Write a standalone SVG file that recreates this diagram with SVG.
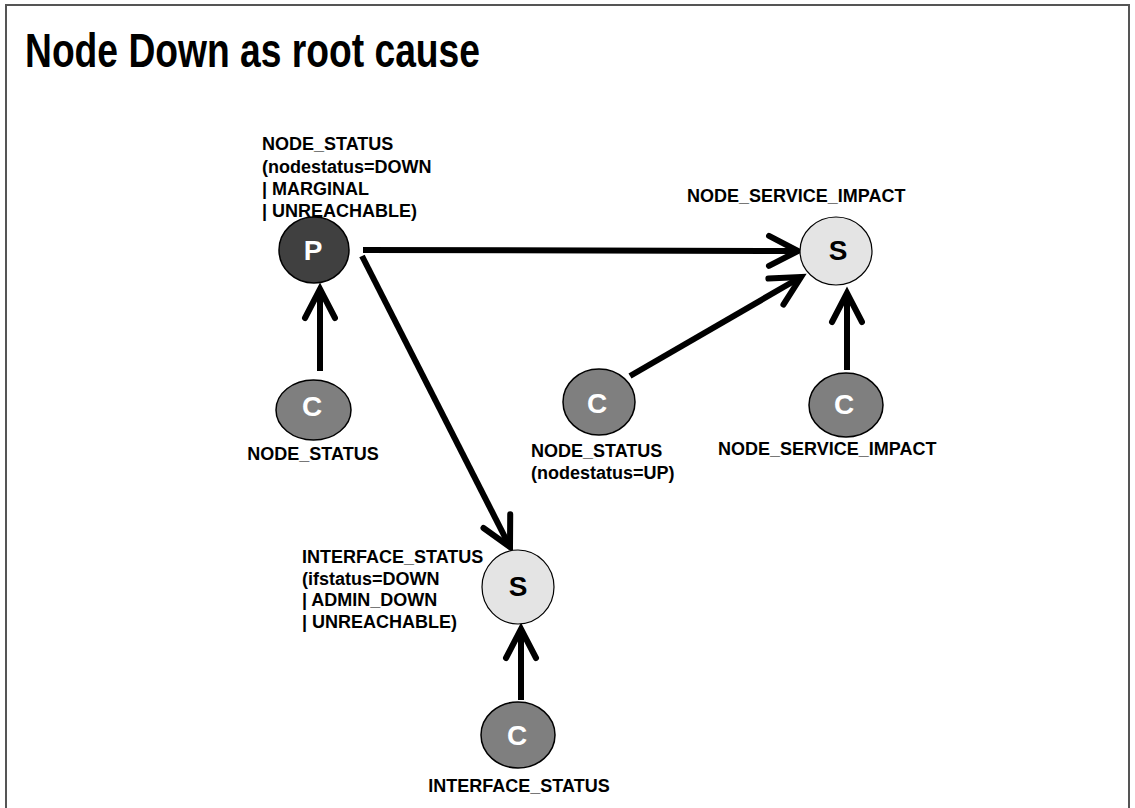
<svg xmlns="http://www.w3.org/2000/svg" width="1135" height="808" viewBox="0 0 1135 808">
  <style>
    .title { font-family: "Liberation Sans", Arial, sans-serif; font-weight: bold; font-size: 49px; fill: #000; }
    .lbl { font-family: "Liberation Sans", Arial, sans-serif; font-weight: bold; font-size: 18px; fill: #000; }
    .mid { text-anchor: middle; }
    .glyph { font-family: "Liberation Sans", Arial, sans-serif; font-weight: bold; font-size: 28px; text-anchor: middle; }
    .p { fill: #404040; stroke: #000; stroke-width: 1.5; }
    .c { fill: #7f7f7f; stroke: #000; stroke-width: 1.5; }
    .s { fill: #e4e4e4; stroke: #000; stroke-width: 1.2; }
    .edge { fill: none; stroke: #000; stroke-width: 6; }
  </style>
  <defs>
    <!-- open chevron arrowhead, fixed size in user units -->
    <marker id="open" markerUnits="userSpaceOnUse" viewBox="-36 -20 40 40" refX="0" refY="0" markerWidth="40" markerHeight="40" orient="auto" overflow="visible">
      <path d="M -29 -15 L 0 0 L -29 15" fill="none" stroke="#000" stroke-width="6" stroke-linecap="round" stroke-linejoin="miter"/>
    </marker>
  </defs>

  <!-- slide frame -->
  <rect x="6" y="5" width="1123" height="812" fill="#fff" stroke="#555" stroke-width="2"/>

  <text class="title" x="25" y="67" textLength="455" lengthAdjust="spacingAndGlyphs">Node Down as root cause</text>

  <g id="connectors">
    <line class="edge" x1="320" y1="371" x2="320" y2="289" marker-end="url(#open)"/>
    <line class="edge" x1="363" y1="250" x2="798" y2="251" marker-end="url(#open)"/>
    <line class="edge" x1="630" y1="376" x2="801" y2="277" marker-end="url(#open)"/>
    <line class="edge" x1="847" y1="370" x2="847" y2="293" marker-end="url(#open)"/>
    <line class="edge" x1="362" y1="256" x2="510" y2="547" marker-end="url(#open)"/>
    <line class="edge" x1="521" y1="700" x2="521" y2="629" marker-end="url(#open)"/>
  </g>

  <g id="p-node-status">
    <ellipse class="p" cx="314" cy="250" rx="35" ry="33"/>
    <text class="glyph" x="313" y="260" fill="#fff">P</text>
    <text class="lbl" x="262" y="150">NODE_STATUS</text>
    <text class="lbl" x="262" y="172.5">(nodestatus=DOWN</text>
    <text class="lbl" x="262" y="195">| MARGINAL</text>
    <text class="lbl" x="262" y="217">| UNREACHABLE)</text>
  </g>

  <g id="s-node-service-impact">
    <ellipse class="s" cx="836" cy="251" rx="36" ry="34"/>
    <text class="glyph" x="838" y="260" fill="#000">S</text>
    <text class="lbl" x="687" y="202">NODE_SERVICE_IMPACT</text>
  </g>

  <g id="c-node-status-left">
    <ellipse class="c" cx="313.5" cy="410" rx="37.5" ry="30"/>
    <text class="glyph" x="312" y="416" fill="#fff">C</text>
    <text class="lbl mid" x="313" y="460">NODE_STATUS</text>
  </g>

  <g id="c-node-status-up">
    <ellipse class="c" cx="599" cy="402" rx="36" ry="33"/>
    <text class="glyph" x="597" y="413" fill="#fff">C</text>
    <text class="lbl" x="531" y="457">NODE_STATUS</text>
    <text class="lbl" x="531" y="479">(nodestatus=UP)</text>
  </g>

  <g id="c-node-service-impact">
    <ellipse class="c" cx="846" cy="405" rx="37" ry="32"/>
    <text class="glyph" x="844" y="414" fill="#fff">C</text>
    <text class="lbl" x="718" y="455">NODE_SERVICE_IMPACT</text>
  </g>

  <g id="s-interface-status">
    <ellipse class="s" cx="518" cy="587" rx="36" ry="37"/>
    <text class="glyph" x="518" y="596" fill="#000">S</text>
    <text class="lbl" x="302" y="563">INTERFACE_STATUS</text>
    <text class="lbl" x="302" y="584.5">(ifstatus=DOWN</text>
    <text class="lbl" x="302" y="606">| ADMIN_DOWN</text>
    <text class="lbl" x="302" y="627.5">| UNREACHABLE)</text>
  </g>

  <g id="c-interface-status">
    <ellipse class="c" cx="518" cy="735" rx="37" ry="33"/>
    <text class="glyph" x="517" y="745" fill="#fff">C</text>
    <text class="lbl mid" x="519" y="792">INTERFACE_STATUS</text>
  </g>
</svg>
